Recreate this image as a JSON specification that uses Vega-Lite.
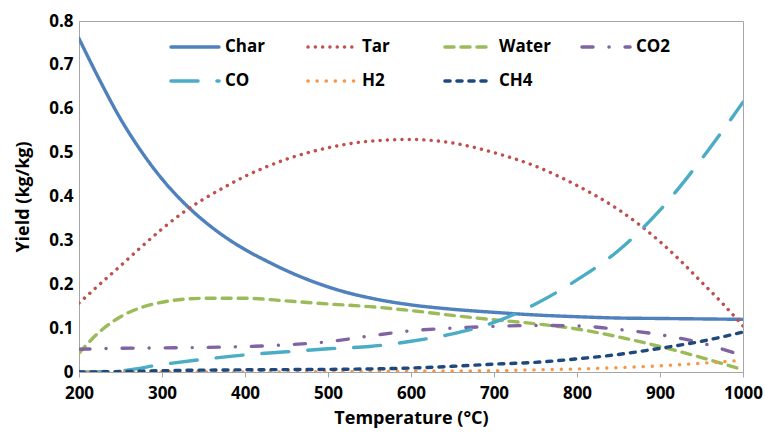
{
  "$schema": "https://vega.github.io/schema/vega-lite/v6.json",
  "width": 664,
  "height": 351,
  "autosize": {"type": "none"},
  "padding": {"left": 79, "top": 21, "right": 22, "bottom": 61},
  "background": "white",
  "config": {"view": {"stroke": "#A6A6A6", "strokeWidth": 1}, "font": "Open Sans"},
  "data": {
    "values": [
      {"T": 200, "series": "Char", "v": 0.76}, {"T": 225, "series": "Char", "v": 0.665}, {"T": 250, "series": "Char", "v": 0.577}, {"T": 275, "series": "Char", "v": 0.503}, {"T": 300, "series": "Char", "v": 0.44}, {"T": 325, "series": "Char", "v": 0.388}, {"T": 350, "series": "Char", "v": 0.345}, {"T": 375, "series": "Char", "v": 0.309}, {"T": 400, "series": "Char", "v": 0.279}, {"T": 425, "series": "Char", "v": 0.254}, {"T": 450, "series": "Char", "v": 0.231}, {"T": 475, "series": "Char", "v": 0.211}, {"T": 500, "series": "Char", "v": 0.194}, {"T": 525, "series": "Char", "v": 0.18}, {"T": 550, "series": "Char", "v": 0.169}, {"T": 575, "series": "Char", "v": 0.16}, {"T": 600, "series": "Char", "v": 0.153}, {"T": 650, "series": "Char", "v": 0.143}, {"T": 700, "series": "Char", "v": 0.136}, {"T": 750, "series": "Char", "v": 0.13}, {"T": 800, "series": "Char", "v": 0.126}, {"T": 850, "series": "Char", "v": 0.123}, {"T": 900, "series": "Char", "v": 0.122}, {"T": 950, "series": "Char", "v": 0.121}, {"T": 1000, "series": "Char", "v": 0.12},
      {"T": 200, "series": "Tar", "v": 0.157}, {"T": 225, "series": "Tar", "v": 0.2}, {"T": 250, "series": "Tar", "v": 0.242}, {"T": 275, "series": "Tar", "v": 0.285}, {"T": 300, "series": "Tar", "v": 0.326}, {"T": 325, "series": "Tar", "v": 0.363}, {"T": 350, "series": "Tar", "v": 0.394}, {"T": 375, "series": "Tar", "v": 0.421}, {"T": 400, "series": "Tar", "v": 0.446}, {"T": 425, "series": "Tar", "v": 0.467}, {"T": 450, "series": "Tar", "v": 0.485}, {"T": 500, "series": "Tar", "v": 0.511}, {"T": 550, "series": "Tar", "v": 0.526}, {"T": 600, "series": "Tar", "v": 0.53}, {"T": 650, "series": "Tar", "v": 0.522}, {"T": 700, "series": "Tar", "v": 0.5}, {"T": 750, "series": "Tar", "v": 0.469}, {"T": 800, "series": "Tar", "v": 0.425}, {"T": 850, "series": "Tar", "v": 0.37}, {"T": 900, "series": "Tar", "v": 0.297}, {"T": 925, "series": "Tar", "v": 0.253}, {"T": 950, "series": "Tar", "v": 0.205}, {"T": 975, "series": "Tar", "v": 0.157}, {"T": 1000, "series": "Tar", "v": 0.105},
      {"T": 200, "series": "Water", "v": 0.043}, {"T": 225, "series": "Water", "v": 0.092}, {"T": 250, "series": "Water", "v": 0.126}, {"T": 275, "series": "Water", "v": 0.147}, {"T": 300, "series": "Water", "v": 0.159}, {"T": 350, "series": "Water", "v": 0.168}, {"T": 400, "series": "Water", "v": 0.168}, {"T": 450, "series": "Water", "v": 0.162}, {"T": 500, "series": "Water", "v": 0.155}, {"T": 550, "series": "Water", "v": 0.149}, {"T": 600, "series": "Water", "v": 0.14}, {"T": 650, "series": "Water", "v": 0.129}, {"T": 700, "series": "Water", "v": 0.119}, {"T": 750, "series": "Water", "v": 0.11}, {"T": 800, "series": "Water", "v": 0.098}, {"T": 850, "series": "Water", "v": 0.08}, {"T": 900, "series": "Water", "v": 0.058}, {"T": 950, "series": "Water", "v": 0.033}, {"T": 1000, "series": "Water", "v": 0.005},
      {"T": 200, "series": "CO2", "v": 0.052}, {"T": 250, "series": "CO2", "v": 0.054}, {"T": 300, "series": "CO2", "v": 0.055}, {"T": 350, "series": "CO2", "v": 0.056}, {"T": 400, "series": "CO2", "v": 0.058}, {"T": 450, "series": "CO2", "v": 0.062}, {"T": 500, "series": "CO2", "v": 0.069}, {"T": 550, "series": "CO2", "v": 0.082}, {"T": 600, "series": "CO2", "v": 0.094}, {"T": 650, "series": "CO2", "v": 0.1}, {"T": 700, "series": "CO2", "v": 0.104}, {"T": 750, "series": "CO2", "v": 0.106}, {"T": 800, "series": "CO2", "v": 0.105}, {"T": 850, "series": "CO2", "v": 0.097}, {"T": 900, "series": "CO2", "v": 0.085}, {"T": 950, "series": "CO2", "v": 0.066}, {"T": 1000, "series": "CO2", "v": 0.037},
      {"T": 200, "series": "CO", "v": 0.0}, {"T": 250, "series": "CO", "v": 0.003}, {"T": 300, "series": "CO", "v": 0.017}, {"T": 350, "series": "CO", "v": 0.029}, {"T": 400, "series": "CO", "v": 0.039}, {"T": 450, "series": "CO", "v": 0.046}, {"T": 500, "series": "CO", "v": 0.053}, {"T": 550, "series": "CO", "v": 0.058}, {"T": 600, "series": "CO", "v": 0.07}, {"T": 650, "series": "CO", "v": 0.087}, {"T": 700, "series": "CO", "v": 0.113}, {"T": 750, "series": "CO", "v": 0.155}, {"T": 800, "series": "CO", "v": 0.21}, {"T": 850, "series": "CO", "v": 0.277}, {"T": 900, "series": "CO", "v": 0.369}, {"T": 950, "series": "CO", "v": 0.485}, {"T": 1000, "series": "CO", "v": 0.615},
      {"T": 200, "series": "H2", "v": 0.0}, {"T": 300, "series": "H2", "v": 0.0}, {"T": 400, "series": "H2", "v": 0.0}, {"T": 500, "series": "H2", "v": 0.001}, {"T": 600, "series": "H2", "v": 0.002}, {"T": 700, "series": "H2", "v": 0.003}, {"T": 750, "series": "H2", "v": 0.005}, {"T": 800, "series": "H2", "v": 0.007}, {"T": 850, "series": "H2", "v": 0.01}, {"T": 900, "series": "H2", "v": 0.014}, {"T": 950, "series": "H2", "v": 0.02}, {"T": 1000, "series": "H2", "v": 0.027},
      {"T": 200, "series": "CH4", "v": 0.0}, {"T": 250, "series": "CH4", "v": 0.001}, {"T": 300, "series": "CH4", "v": 0.003}, {"T": 400, "series": "CH4", "v": 0.005}, {"T": 500, "series": "CH4", "v": 0.006}, {"T": 550, "series": "CH4", "v": 0.007}, {"T": 600, "series": "CH4", "v": 0.009}, {"T": 650, "series": "CH4", "v": 0.013}, {"T": 700, "series": "CH4", "v": 0.018}, {"T": 750, "series": "CH4", "v": 0.022}, {"T": 800, "series": "CH4", "v": 0.03}, {"T": 850, "series": "CH4", "v": 0.04}, {"T": 900, "series": "CH4", "v": 0.054}, {"T": 950, "series": "CH4", "v": 0.07}, {"T": 1000, "series": "CH4", "v": 0.091}
    ]
  },
  "mark": {"type": "line", "interpolate": "monotone", "strokeWidth": 3.4, "strokeCap": "round", "clip": true},
  "encoding": {
    "x": {
      "field": "T", "type": "quantitative",
      "scale": {"domain": [200, 1000], "nice": false},
      "axis": {
        "title": "Temperature (°C)", "values": [200, 300, 400, 500, 600, 700, 800, 900, 1000], "format": "d",
        "grid": false, "labelFlush": false, "tickSize": 5, "tickColor": "#A6A6A6", "domainColor": "#A6A6A6",
        "labelFont": "Open Sans", "labelFontSize": 17, "labelFontWeight": "bold", "labelColor": "#000000", "labelPadding": 8,
        "titleFont": "Open Sans", "titleFontSize": 18, "titleFontWeight": "bold", "titleColor": "#000000", "titlePadding": 8
      }
    },
    "y": {
      "field": "v", "type": "quantitative",
      "scale": {"domain": [0, 0.8], "nice": false},
      "axis": {
        "title": "Yield (kg/kg)", "values": [0, 0.1, 0.2, 0.3, 0.4, 0.5, 0.6, 0.7, 0.8],
        "labelExpr": "datum.value == 0 ? '0' : format(datum.value, '.1f')",
        "grid": false, "ticks": false, "domainColor": "#A6A6A6", "labelPadding": 6,
        "labelFont": "Open Sans", "labelFontSize": 17, "labelFontWeight": "bold", "labelColor": "#000000",
        "titleFont": "Open Sans", "titleFontSize": 18, "titleFontWeight": "bold", "titleColor": "#000000", "titlePadding": 16
      }
    },
    "color": {
      "field": "series", "type": "nominal",
      "scale": {
        "domain": ["Char", "Tar", "Water", "CO2", "CO", "H2", "CH4"],
        "range": ["#4F81BD", "#C0504D", "#9BBB59", "#8064A2", "#4BACC6", "#F79646", "#1F497D"]
      },
      "legend": {
        "title": null, "orient": "none", "legendX": 90, "legendY": 0, "columns": 4, "direction": "horizontal", "gridAlign": "all",
        "symbolType": "stroke", "symbolSize": 2304, "symbolStrokeWidth": 3.4,
        "labelFont": "Open Sans", "labelFontSize": 17, "labelFontWeight": "bold", "labelColor": "#000000",
        "labelOffset": 4, "columnPadding": 23, "rowPadding": 0,
        "encode": {"symbols": {"update": {"strokeCap": {"value": "round"}}}}
      }
    },
    "strokeDash": {
      "field": "series", "type": "nominal",
      "scale": {
        "domain": ["Char", "Tar", "Water", "CO2", "CO", "H2", "CH4"],
        "range": [[1, 0], [0.1, 7.2], [9, 7], [11, 16, 0.1, 16], [27, 19], [0.1, 9], [5, 7]]
      }
    },
    "strokeWidth": {
      "field": "series", "type": "nominal",
      "scale": {
        "domain": ["Char", "Tar", "Water", "CO2", "CO", "H2", "CH4"],
        "range": [3.4, 3.6, 3.6, 3.6, 3.8, 4.4, 3.4]
      },
      "legend": null
    }
  }
}
